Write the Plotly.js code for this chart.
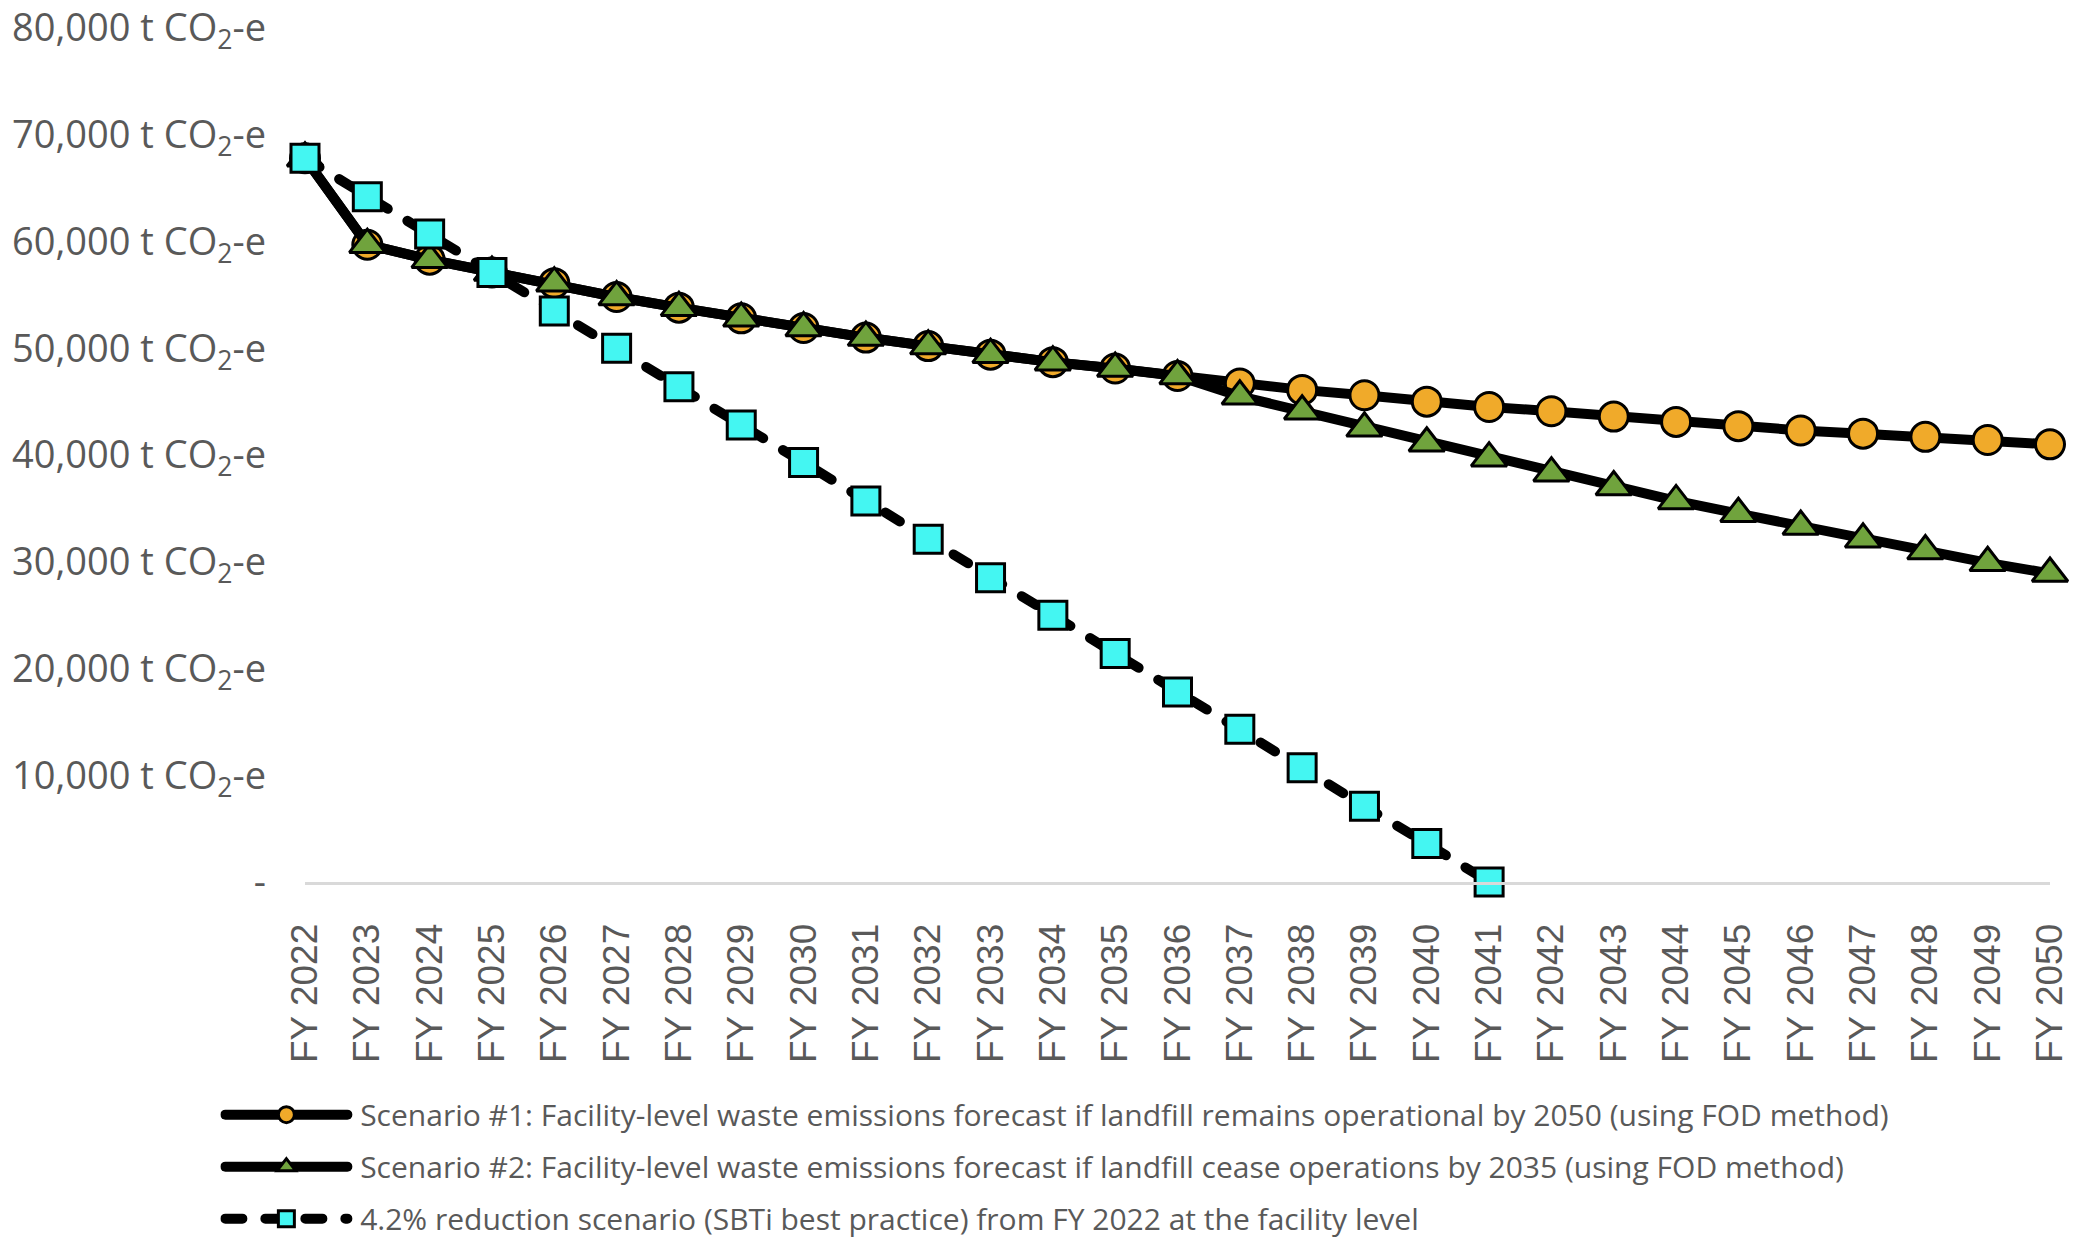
<!DOCTYPE html>
<html>
<head>
<meta charset="utf-8">
<script src="https://cdn.plot.ly/plotly-3.0.1.min.js"></script>
<style>
  html, body { margin: 0; padding: 0; background: #fff; }
  #chart { width: 2079px; height: 1247px; }
  .scatterlayer .js-line, .legendlines path { stroke-linecap: round; stroke-linejoin: round; }
</style>
</head>
<body>
<div id="chart"></div>
<script>
// fiscal years on the x axis
const years = [
  'FY 2022', 'FY 2023', 'FY 2024', 'FY 2025', 'FY 2026', 'FY 2027', 'FY 2028', 'FY 2029',
  'FY 2030', 'FY 2031', 'FY 2032', 'FY 2033', 'FY 2034', 'FY 2035', 'FY 2036', 'FY 2037',
  'FY 2038', 'FY 2039', 'FY 2040', 'FY 2041', 'FY 2042', 'FY 2043', 'FY 2044', 'FY 2045',
  'FY 2046', 'FY 2047', 'FY 2048', 'FY 2049', 'FY 2050'
];

// scenario #1 - landfill stays open to 2050 (t CO2-e)
const scenario1 = [
  67800, 59700, 58300, 57100, 56100, 54800, 53800, 52800,
  51900, 51000, 50200, 49400, 48700, 48100, 47400, 46700,
  46100, 45600, 45000, 44500, 44100, 43600, 43100, 42700,
  42300, 42000, 41700, 41400, 41000
];

// scenario #2 - landfill closes in 2035
const scenario2 = [
  67800, 59700, 58300, 57100, 56100, 54800, 53800, 52800,
  51900, 51000, 50200, 49400, 48700, 48100, 47400, 45500,
  44100, 42500, 41100, 39700, 38300, 37000, 35700, 34500,
  33300, 32100, 31000, 29900, 28900
];

// 4.2% SBTi reduction path, FY2022 to FY2041 only
const sbtiYears = years.slice(0, 20);
const sbti = [
  67800, 64200, 60700, 57100, 53500, 50000, 46400, 42800, 39300, 35700,
  32100, 28500, 25000, 21400, 17800, 14300, 10700, 7100, 3600, 0
];

const yTickVals = [0, 10000, 20000, 30000, 40000, 50000, 60000, 70000, 80000];
const yTickText = [
  '-',
  '10,000 t CO<sub>2</sub>-e', '20,000 t CO<sub>2</sub>-e', '30,000 t CO<sub>2</sub>-e',
  '40,000 t CO<sub>2</sub>-e', '50,000 t CO<sub>2</sub>-e', '60,000 t CO<sub>2</sub>-e',
  '70,000 t CO<sub>2</sub>-e', '80,000 t CO<sub>2</sub>-e'
];

const names = [
  'Scenario #1: Facility-level waste emissions forecast if landfill remains operational by 2050 (using FOD method)',
  'Scenario #2: Facility-level waste emissions forecast if landfill cease operations by 2035 (using FOD method)',
  '4.2% reduction scenario (SBTi best practice) from FY 2022 at the facility level'
];

const textGrey = '#595959';

// small gap between the legend line and its text
const pad = '\u00a0';

const traces = [
  {
    type: 'scatter', mode: 'lines+markers', name: pad + names[0], legendgroup: 'a',
    x: years, y: scenario1, cliponaxis: false,
    line: { color: '#000000', width: 10 },
    marker: { symbol: 'circle', size: 29, color: '#F0AA2A', line: { color: '#000000', width: 3 } }
  },
  {
    type: 'scatter', mode: 'lines+markers', name: pad + names[1], legendgroup: 'b',
    x: years, y: scenario2, cliponaxis: false,
    line: { color: '#000000', width: 10 },
    marker: { symbol: 'triangle-up', size: 31, color: '#70A33D', line: { color: '#000000', width: 3 } }
  },
  {
    type: 'scatter', mode: 'lines+markers', name: pad + names[2], legendgroup: 'c',
    x: sbtiYears, y: sbti, cliponaxis: false,
    line: { color: '#000000', width: 10, dash: '17px,23px' },
    marker: { symbol: 'square', size: 28, color: '#44F6F2', line: { color: '#000000', width: 3 } }
  }
];

const layout = {
  width: 2079,
  height: 1247,
  margin: { l: 305, r: 29, t: 28, b: 365, autoexpand: false },
  paper_bgcolor: '#ffffff',
  plot_bgcolor: '#ffffff',
  showlegend: true,
  legend: {
    xref: 'container', yref: 'container',
    x: 0.106, y: 0.127, xanchor: 'left', yanchor: 'top',
    orientation: 'v',
    itemwidth: 122,
    tracegroupgap: 10,
    font: { family: 'Open Sans, sans-serif', size: 30, color: textGrey }
  },
  xaxis: {
    type: 'category',
    range: [0, 28],
    showgrid: false,
    zeroline: false,
    showline: true,
    linecolor: '#d9d9d9',
    linewidth: 3,
    ticks: '',
    tickangle: -90,
    ticklabelstandoff: 24,
    tickfont: { family: 'Liberation Sans, Arial, sans-serif', size: 37, color: textGrey },
    fixedrange: true
  },
  yaxis: {
    range: [0, 80000],
    showgrid: false,
    zeroline: false,
    showline: false,
    ticks: '',
    tickmode: 'array',
    tickvals: yTickVals,
    ticktext: yTickText,
    ticklabelstandoff: 38,
    tickfont: { family: 'Open Sans, sans-serif', size: 38, color: textGrey },
    fixedrange: true
  }
};

Plotly.newPlot('chart', traces, layout, { displayModeBar: false, staticPlot: true });
</script>
</body>
</html>
